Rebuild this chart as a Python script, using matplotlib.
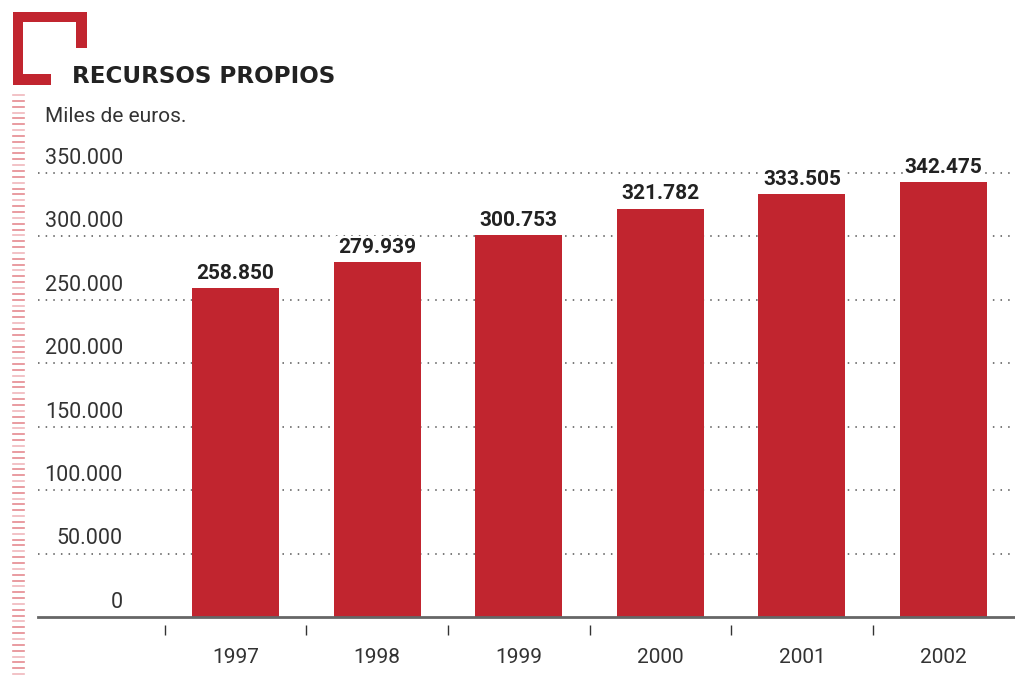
import matplotlib
matplotlib.use('Agg')
import matplotlib.pyplot as plt
from matplotlib.patches import Rectangle
from matplotlib.lines import Line2D
import numpy as np

years = ['1997', '1998', '1999', '2000', '2001', '2002']
values = [258850, 279939, 300753, 321782, 333505, 342475]
value_labels = ['258.850', '279.939', '300.753', '321.782', '333.505', '342.475']
y_ticks = [0, 50000, 100000, 150000, 200000, 250000, 300000, 350000]
y_tick_labels = ['0', '50.000', '100.000', '150.000', '200.000', '250.000', '300.000', '350.000']

W, H = 1015, 680
RED = '#C1252F'
plt.rcParams['font.family'] = ['Roboto', 'DejaVu Sans']


def fx(px):
    return px / W


def fy(py):
    return 1 - py / H


fig = plt.figure(figsize=(W / 100, H / 100), dpi=100)

# bracket decoration top left
for x0, y0, x1, y1 in [(13, 12, 87, 22), (76, 12, 87, 48), (13, 12, 23, 85), (13, 74, 51, 85)]:
    fig.patches.append(Rectangle((fx(x0), fy(y1)), fx(x1 - x0), (y1 - y0) / H,
                                 transform=fig.transFigure, color=RED, lw=0))

# ruler ladder on the left
for i, py in enumerate(np.arange(95, 680, 5.85)):
    col = '#E58A90' if i % 3 else '#F0B8BC'
    fig.lines.append(Line2D([fx(13), fx(24)], [fy(py), fy(py)], transform=fig.transFigure,
                            color=col, lw=1.2))

fig.text(fx(72), fy(83), 'RECURSOS PROPIOS', fontsize=16.6, fontweight='bold',
         family='DejaVu Sans', color='#222222', va='baseline', ha='left')
fig.text(fx(45), fy(122), 'Miles de euros.', fontsize=15, color='#333333',
         va='baseline', ha='left')

bottom_px, top_px = 617, 160
ax = fig.add_axes([fx(38), fy(bottom_px), fx(977), (bottom_px - top_px) / H])
x = np.arange(len(years))
ax.bar(x, values, width=0.614, color=RED, zorder=2)
ax.set_xlim(-1.395, 5.505)
ax.set_ylim(0, 360000)

for v in y_ticks[1:]:
    ax.axhline(v, color='#555555', lw=1.1, ls=(0, (1, 4)), zorder=1)
for v, lab in zip(y_ticks, y_tick_labels):
    ax.annotate(lab, xy=((123 - 38) / 977, v), xycoords=('axes fraction', 'data'),
                xytext=(0, 6.5), textcoords='offset points', ha='right', va='baseline',
                fontsize=15.5, color='#333333')

for xi, v, lab in zip(x, values, value_labels):
    ax.annotate(lab, xy=(xi, v), xytext=(0, 6.5), textcoords='offset points',
                ha='center', va='baseline', fontsize=15, fontweight='bold', color='#222222',
                bbox=dict(facecolor='white', edgecolor='none', pad=1.5), zorder=3)

# small separators between years below the axis
ax.vlines(np.arange(-0.5, 5, 1.0), -8 / 457 * 360000, -18 / 457 * 360000,
          color='#333333', lw=1, clip_on=False)

for s in ['top', 'right', 'left']:
    ax.spines[s].set_visible(False)
ax.spines['bottom'].set_color('#666666')
ax.spines['bottom'].set_linewidth(2)
ax.set_yticks([])
ax.set_xticks(x)
ax.set_xticklabels(years, fontsize=15, color='#333333')
ax.tick_params(axis='x', length=0, pad=22)

fig.savefig('out.png', dpi=100)
